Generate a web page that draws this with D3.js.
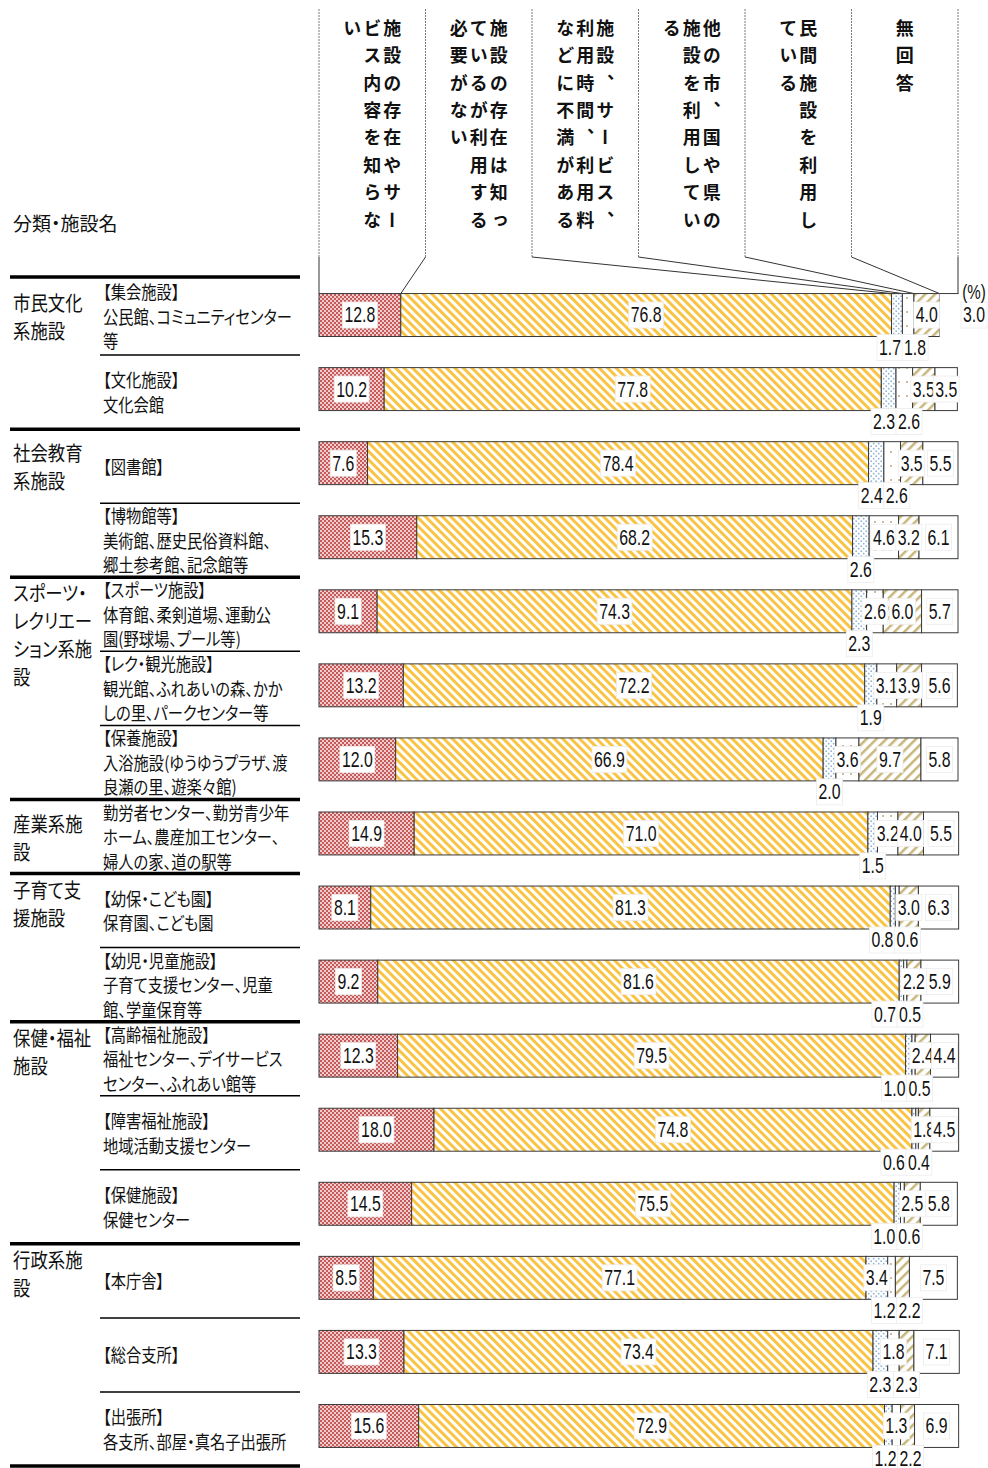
<!DOCTYPE html>
<html>
<head>
<meta charset="utf-8">
<script src="https://cdn.jsdelivr.net/npm/d3@7"></script>
<style>
  html, body { margin: 0; padding: 0; background: #fff; }
  svg { display: block; }
  .jp { font-family: "Noto Sans CJK JP", "Noto Sans", sans-serif; font-feature-settings: "palt"; fill: #111; }
  .num { font-family: "Liberation Sans", Arial, sans-serif; fill: #111; }
</style>
</head>
<body>
<svg id="chart" width="988" height="1468"></svg>
<script>
// ---- answer categories (column headings) ----
const seriesNames = [
  "施設の存在やサービス内容を知らない",
  "施設の存在は知っているが利用する必要がない",
  "施設、サービス、利用時間、利用料などに不満がある",
  "他の市、国や県の施設を利用している",
  "民間施設を利用している",
  "無回答"
];

// ---- facility groups ----
const groupNames = [
  ["市民文化", "系施設"],
  ["社会教育", "系施設"],
  ["スポーツ・", "レクリエー", "ション系施", "設"],
  ["産業系施", "設"],
  ["子育て支", "援施設"],
  ["保健・福祉", "施設"],
  ["行政系施", "設"]
];
const groupSizes = [2, 2, 3, 1, 2, 3, 3];

// ---- facilities (one bar each) ----
const facilityNames = [
  ["【集会施設】", "公民館、コミュニティセンター", "等"],
  ["【文化施設】", "文化会館"],
  ["【図書館】"],
  ["【博物館等】", "美術館、歴史民俗資料館、", "郷土参考館、記念館等"],
  ["【スポーツ施設】", "体育館、柔剣道場、運動公", "園(野球場、プール等)"],
  ["【レク・観光施設】", "観光館、ふれあいの森、かか", "しの里、パークセンター等"],
  ["【保養施設】", "入浴施設(ゆうゆうプラザ、渡", "良瀬の里、遊楽々館)"],
  ["勤労者センター、勤労青少年", "ホーム、農産加工センター、", "婦人の家、道の駅等"],
  ["【幼保・こども園】", "保育園、こども園"],
  ["【幼児・児童施設】", "子育て支援センター、児童", "館、学童保育等"],
  ["【高齢福祉施設】", "福祉センター、デイサービス", "センター、ふれあい館等"],
  ["【障害福祉施設】", "地域活動支援センター"],
  ["【保健施設】", "保健センター"],
  ["【本庁舎】"],
  ["【総合支所】"],
  ["【出張所】", "各支所、部屋・真名子出張所"]
];

// ---- percentages, one array per answer category ----
const notAware     = [12.8, 10.2, 7.6, 15.3, 9.1, 13.2, 12.0, 14.9, 8.1, 9.2, 12.3, 18.0, 14.5, 8.5, 13.3, 15.6];
const noNeed       = [76.8, 77.8, 78.4, 68.2, 74.3, 72.2, 66.9, 71.0, 81.3, 81.6, 79.5, 74.8, 75.5, 77.1, 73.4, 72.9];
const dissatisfied = [1.7, 2.3, 2.4, 2.6, 2.3, 1.9, 2.0, 1.5, 0.8, 0.7, 1.0, 0.6, 1.0, 3.4, 2.3, 1.2];
const otherPublic  = [1.8, 2.6, 2.6, 4.6, 2.6, 3.1, 3.6, 3.2, 0.6, 0.5, 0.5, 0.4, 0.6, 1.2, 1.8, 1.3];
const privateUse   = [4.0, 3.5, 3.5, 3.2, 6.0, 3.9, 9.7, 4.0, 3.0, 2.2, 2.4, 1.8, 2.5, 2.2, 2.3, 2.2];
const noAnswer     = [3.0, 3.5, 5.5, 6.1, 5.7, 5.6, 5.8, 5.5, 6.3, 5.9, 4.4, 4.5, 5.8, 7.5, 7.1, 6.9];

// where each value label sits: i = inside the bar, b = below the bar, o = outside right
const labelPlacement = [
  "iibbio", "iibbii", "iibbii", "iibiii", "iibiii", "iibiii", "iibiii", "iibiii",
  "iibbii", "iibbii", "iibbii", "iibbii", "iibbii", "iiibbi", "iibibi", "iibibi"
];
// how each group caption is aligned within its block
const groupAlign = ["middle", "middle", "top", "middle", "top", "top", "top"];

const series = [notAware, noNeed, dissatisfied, otherPublic, privateUse, noAnswer];
const table = facilityNames.map((f, i) => {
  const row = { index: i };
  seriesNames.forEach((s, k) => { row[s] = series[k][i]; });
  return row;
});
const stacked = d3.stack().keys(seriesNames)(table);

// ---- layout ----
const svg = d3.select("#chart");
const x = d3.scaleLinear().domain([0, 100]).range([319, 958]);
const y = d3.scaleBand().domain(d3.range(facilityNames.length))
  .range([278, 1463]).paddingInner(0.42).paddingOuter(0.21);
const head = d3.scaleBand().domain(seriesNames).range([319, 958]);
const headTop = 9, headBottom = 257;

// ---- fill patterns ----
const defs = svg.append("defs");
function pattern(id, w, h, transform) {
  const p = defs.append("pattern").attr("id", id)
    .attr("patternUnits", "userSpaceOnUse").attr("width", w).attr("height", h);
  if (transform) p.attr("patternTransform", transform);
  return p;
}
// checkered red
const p0 = pattern("pat0", 4, 4);
p0.append("rect").attr("width", 4).attr("height", 4).attr("fill", "#f1cccc");
p0.append("rect").attr("width", 2).attr("height", 2).attr("fill", "#c45a5a");
p0.append("rect").attr("x", 2).attr("y", 2).attr("width", 2).attr("height", 2).attr("fill", "#c45a5a");
// yellow "\" stripes
const p1 = pattern("pat1", 6, 6, "rotate(-45)");
p1.append("rect").attr("width", 6).attr("height", 6).attr("fill", "#fff");
p1.append("rect").attr("width", 3).attr("height", 6).attr("fill", "#f9c443");
// light blue dots
const p2 = pattern("pat2", 5, 5);
p2.append("rect").attr("width", 5).attr("height", 5).attr("fill", "#fff");
p2.append("circle").attr("cx", 1.2).attr("cy", 1.2).attr("r", 0.9).attr("fill", "#8eb4d6");
p2.append("circle").attr("cx", 3.7).attr("cy", 3.7).attr("r", 0.9).attr("fill", "#8eb4d6");
// sparse tan dots
const p3 = pattern("pat3", 8, 14);
p3.append("rect").attr("width", 8).attr("height", 14).attr("fill", "#fff");
p3.append("circle").attr("cx", 3).attr("cy", 4).attr("r", 0.9).attr("fill", "#b59d6f");
// khaki "/" stripes
const p4 = pattern("pat4", 7, 7, "rotate(45)");
p4.append("rect").attr("width", 7).attr("height", 7).attr("fill", "#fff");
p4.append("rect").attr("width", 2.5).attr("height", 7).attr("fill", "#c8b67a");
// plain white
const p5 = pattern("pat5", 4, 4);
p5.append("rect").attr("width", 4).attr("height", 4).attr("fill", "#fff");

// ---- column headings (vertical text) ----
const headG = svg.append("g");
const edges = seriesNames.map(s => head(s)).concat([head(seriesNames[5]) + head.bandwidth()]);
headG.selectAll("line.edge").data(edges).join("line")
  .attr("class", "edge")
  .attr("x1", d => d).attr("x2", d => d)
  .attr("y1", headTop).attr("y2", headBottom)
  .attr("stroke", "#7a7a7a").attr("stroke-width", 1).attr("stroke-dasharray", "2,1");

// leader lines from each heading down to its segment in the first bar
const firstRow = 0;
const leaderEnds = [x(0)].concat(stacked.map(layer => x(layer[firstRow][1])));
leaderEnds[6] = edges[6];
headG.selectAll("line.leader").data(edges).join("line")
  .attr("class", "leader")
  .attr("x1", d => d).attr("y1", headBottom)
  .attr("x2", (d, i) => leaderEnds[i]).attr("y2", y(firstRow))
  .attr("stroke", "#333").attr("stroke-width", 1);

const charsPerLine = 8, lineGap = 20;
seriesNames.forEach(name => {
  const chars = Array.from(name);
  const lines = [];
  for (let i = 0; i < chars.length; i += charsPerLine) lines.push(chars.slice(i, i + charsPerLine).join(""));
  const cx = head(name) + head.bandwidth() / 2;
  lines.forEach((ln, j) => {
    headG.append("text").attr("class", "jp")
      .attr("x", cx + (lines.length - 1) / 2 * lineGap - j * lineGap)
      .attr("y", 19)
      .style("writing-mode", "vertical-rl")
      .style("letter-spacing", "9.4px")
      .attr("font-size", 18).attr("font-weight", "bold")
      .text(ln);
  });
});

// ---- left table ----
const tableG = svg.append("g");
tableG.append("text").attr("class", "jp")
  .attr("x", 13).attr("y", 222).attr("dominant-baseline", "central")
  .attr("font-size", 19).text("分類・施設名");

const step = y.step(), yStart = y.range()[0];
const boundary = i => i === 0 ? yStart - 1 : yStart + i * step + 3;

const groupStarts = [];
groupSizes.reduce((acc, n) => { groupStarts.push(acc); return acc + n; }, 0);
const thick = groupStarts.concat([facilityNames.length]);

d3.range(facilityNames.length + 1).forEach(i => {
  const isThick = thick.includes(i);
  tableG.append("line")
    .attr("x1", isThick ? 10 : 100).attr("x2", 300)
    .attr("y1", boundary(i)).attr("y2", boundary(i))
    .attr("stroke", "#000").attr("stroke-width", isThick ? 3.5 : 1.5);
});

// group captions
groupNames.forEach((lines, g) => {
  const r0 = groupStarts[g];
  const lh = 28;
  let firstY;
  if (groupAlign[g] === "middle") {
    const mid = (boundary(r0) + boundary(r0 + 1)) / 2;
    firstY = mid - (lines.length - 1) * lh / 2;
  } else {
    firstY = boundary(r0) + 15;
  }
  lines.forEach((ln, j) => {
    tableG.append("text").attr("class", "jp")
      .attr("transform", `translate(13,${firstY + j * lh}) scale(0.87,1)`)
      .attr("dominant-baseline", "central").attr("font-size", 20)
      .text(ln);
  });
});

// facility captions, centred in their row
facilityNames.forEach((lines, i) => {
  const lh = 24.5;
  const mid = (boundary(i) + boundary(i + 1)) / 2;
  const firstY = mid - (lines.length - 1) * lh / 2;
  lines.forEach((ln, j) => {
    tableG.append("text").attr("class", "jp")
      .attr("transform", `translate(103,${firstY + j * lh}) scale(0.85,1)`)
      .attr("dominant-baseline", "central").attr("font-size", 18)
      .text(ln);
  });
});

// ---- stacked bars ----
const barG = svg.append("g");
stacked.forEach((layer, k) => {
  barG.selectAll(null).data(layer).join("rect")
    .attr("x", d => x(d[0]))
    .attr("width", d => x(d[1]) - x(d[0]))
    .attr("y", d => y(d.data.index))
    .attr("height", y.bandwidth())
    .attr("fill", `url(#pat${k})`)
    .attr("stroke", d => labelPlacement[d.data.index][k] === "o" ? "none" : "#3a3a3a")
    .attr("stroke-width", 1);
});
// the open last segment of the first bar still shares the bar's top edge
barG.append("line")
  .attr("x1", x(stacked[5][0][0])).attr("x2", x(stacked[5][0][1]))
  .attr("y1", y(0)).attr("y2", y(0))
  .attr("stroke", "#3a3a3a").attr("stroke-width", 1);

// ---- value labels (narrow numerals) ----
const labelG = svg.append("g");
const narrow = 0.72;
function drawLabel(cx, cy, txt, boxed = true, size = 22) {
  const g = labelG.append("g").attr("transform", `translate(${cx},${cy})`);
  const t = g.append("text").attr("class", "num")
    .attr("transform", `scale(${narrow},1)`)
    .attr("text-anchor", "middle").attr("dominant-baseline", "central")
    .attr("font-size", size).text(txt);
  if (!boxed) return;
  const w = t.node().getComputedTextLength() * narrow;
  g.insert("rect", () => t.node())
    .attr("x", -w / 2 - 2).attr("y", -13)
    .attr("width", w + 4).attr("height", 26)
    .attr("fill", "#fff").attr("stroke", "#ececec").attr("stroke-width", 0.8);
}

table.forEach((row, i) => {
  const top = y(i), bw = y.bandwidth(), cy = top + bw / 2;
  const place = labelPlacement[i];
  const below = [];
  stacked.forEach((layer, k) => {
    const d = layer[i];
    const txt = d3.format(".1f")(series[k][i]);
    const mode = place[k];
    const cx = (x(d[0]) + x(d[1])) / 2;
    if (mode === "i") drawLabel(cx, cy, txt);
    else if (mode === "b") below.push({ cx, txt });
    else if (mode === "o") {
      drawLabel(974, cy, txt);
      drawLabel(974, cy - 23, "(%)", false, 21);
    }
  });
  // keep neighbouring labels under the bar from overlapping
  const minGap = 25;
  for (let j = 1; j < below.length; j++) {
    const a = below[j - 1], b = below[j];
    if (b.cx - a.cx < minGap) {
      const m = (a.cx + b.cx) / 2;
      a.cx = m - minGap / 2; b.cx = m + minGap / 2;
    }
  }
  // when the 民間 label sits inside, keep the labels underneath left of the 無回答 segment
  if (below.length && place[4] === "i") {
    const limit = x(stacked[5][i][0]) + 1 - 12;
    const shift = Math.max(0, below[below.length - 1].cx - limit);
    below.forEach(l => { l.cx -= shift; });
  }
  below.forEach(l => drawLabel(l.cx, top + bw + 11, l.txt));
});
</script>
</body>
</html>
